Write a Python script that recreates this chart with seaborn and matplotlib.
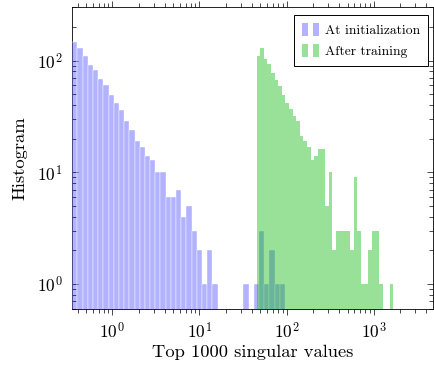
import numpy as np
import matplotlib
matplotlib.use("Agg")
import matplotlib.pyplot as plt
import seaborn as sns
from matplotlib.patches import Patch
from matplotlib.legend_handler import HandlerTuple
from matplotlib.ticker import LogLocator, NullFormatter

sns.set_theme(style="ticks")
plt.rcParams.update({
    "font.family": "serif",
    "font.serif": ["cmr10", "DejaVu Serif"],
    "mathtext.fontset": "cm",
    "axes.formatter.use_mathtext": True,
    "axes.unicode_minus": False,
    "text.color": "black",
    "axes.labelcolor": "black",
    "axes.edgecolor": "black",
    "xtick.color": "black",
    "ytick.color": "black",
})

# histogram counts per log-spaced bin
init_counts = [146, 130, 111, 92, 82, 69, 60, 49, 42, 36, 29, 24, 19, 17, 14, 13,
               10, 10, 6, 6, 7, 4, 5, 3, 2, 1, 2, 1,
               0, 0, 0, 0, 0, 1, 0, 1, 3, 1, 2, 1, 1]
init_range = (0.348, 95.7)

trained_counts = [109, 130, 104, 93, 77, 67, 59, 49, 42, 37, 32, 29, 21, 19, 17, 13, 14,
                  16, 16, 5, 10, 2, 3, 3, 3, 3, 2, 9, 3, 1, 1, 2, 3, 3, 1, 0, 0, 1]
trained_range = (45.3, 1683)

labels = ["At initialization", "After training"]
blue = (0.0, 0.0, 1.0)
green = (0.05, 0.72, 0.05)


def log_bins(rng, n):
    edges = np.logspace(np.log10(rng[0]), np.log10(rng[1]), n + 1)
    centers = np.sqrt(edges[:-1] * edges[1:])
    return edges, centers


fig = plt.figure(figsize=(4.34, 3.69), dpi=100)
ax = fig.add_axes([0.1666, 0.1618, 0.8318, 0.8184])

# seaborn bins the log10 of the data when log_scale is on
e1, c1 = log_bins(init_range, len(init_counts))
sns.histplot(x=c1, weights=init_counts, bins=list(np.log10(e1)), log_scale=True, ax=ax,
             color=blue, alpha=0.3, edgecolor="white", linewidth=0.3, zorder=3)

e2, c2 = log_bins(trained_range, len(trained_counts))
sns.histplot(x=c2, weights=trained_counts, bins=list(np.log10(e2)), log_scale=True, ax=ax,
             color=green, alpha=0.42, linewidth=0, zorder=3)

ax.set_yscale("log")
ax.set_xlim(0.348, 4820)
ax.set_ylim(0.593, 300)

ax.xaxis.set_minor_locator(LogLocator(base=10, subs=np.arange(2, 10), numticks=30))
ax.yaxis.set_minor_locator(LogLocator(base=10, subs=np.arange(2, 10), numticks=30))
ax.xaxis.set_minor_formatter(NullFormatter())
ax.yaxis.set_minor_formatter(NullFormatter())

ax.tick_params(axis="x", which="both", direction="out", top=True, bottom=True)
ax.tick_params(axis="y", which="both", direction="in", left=True, right=True)
ax.tick_params(which="major", length=4.2, width=0.5, labelsize=12.5)
ax.tick_params(which="minor", length=2.8, width=0.5)
ax.tick_params(axis="x", which="major", pad=4.5)
ax.tick_params(axis="y", which="major", pad=7)
for s in ax.spines.values():
    s.set_linewidth(0.6)
    s.set_visible(True)

ax.set_xlabel("Top 1000 singular values", fontsize=13.3, labelpad=2)
ax.set_ylabel("Histogram", fontsize=13.3, labelpad=7)

h1 = Patch(facecolor=blue, alpha=0.3, linewidth=0)
h2 = Patch(facecolor=green, alpha=0.42, linewidth=0)
leg = ax.legend([(h1, h1), (h2, h2)], labels, loc="upper right",
                bbox_to_anchor=(0.985, 0.9755), borderaxespad=0,
                handler_map={tuple: HandlerTuple(ndivide=None, pad=0.32)},
                fontsize=9.8, frameon=True, fancybox=False, framealpha=1,
                edgecolor="black", handlelength=1.31, handleheight=1.1,
                handletextpad=0.4, borderpad=0.58, labelspacing=0.5)
leg.get_frame().set_linewidth(0.7)

fig.savefig("out.png", dpi=100)
